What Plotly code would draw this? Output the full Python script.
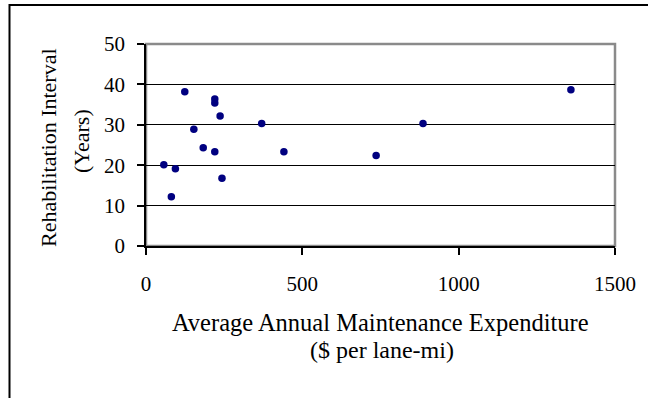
import plotly.graph_objects as go

# Maintenance expenditure ($ per lane-mi) vs rehabilitation interval (years)
expenditure = [124, 220, 220, 237, 370, 153, 183, 220, 441, 57, 94, 243, 81, 736, 886, 1359]
interval = [38.2, 36.4, 35.4, 32.2, 30.3, 28.9, 24.3, 23.3, 23.3, 20.1, 19.1, 16.8, 12.2, 22.4, 30.3, 38.7]

x_ticks = [0, 500, 1000, 1500]
y_ticks = [0, 10, 20, 30, 40, 50]

x_title = ["Average Annual Maintenance Expenditure", "($ per lane-mi)"]
y_title = ["Rehabilitation Interval", "(Years)"]

W, H = 648, 398
L, R, T, B = 146, 33, 44, 152
pw, ph = W - L - R, H - T - B


# pixel -> paper coordinates
def px_x(p):
    return (p - L) / pw


def px_y(p):
    return (H - B - p) / ph


serif = "Liberation Serif, Times New Roman, serif"
tick_font = dict(family=serif, size=21, color="black")

fig = go.Figure(go.Scatter(
    x=expenditure, y=interval, mode="markers",
    marker=dict(size=7.5, color="#000080"),
    cliponaxis=False,
))

annotations = [
    dict(text=x_title[0], x=px_x(380), y=px_y(322), font=dict(family=serif, size=24.5, color="black")),
    dict(text=x_title[1], x=px_x(382), y=px_y(350), font=dict(family=serif, size=24, color="black")),
    dict(text=y_title[0], x=px_x(48), y=px_y(148), textangle=-90, font=dict(family=serif, size=22, color="black")),
    dict(text=y_title[1], x=px_x(81), y=px_y(141), textangle=-90, font=dict(family=serif, size=22, color="black")),
]
for a in annotations:
    a.update(xref="paper", yref="paper", showarrow=False, xanchor="center", yanchor="middle")

fig.update_layout(
    width=W, height=H,
    margin=dict(l=L, r=R, t=T, b=B),
    paper_bgcolor="white", plot_bgcolor="white",
    font=tick_font, showlegend=False,
    annotations=annotations,
    shapes=[
        # plot area frame (gray top/right)
        dict(type="rect", xref="paper", yref="paper", x0=0, x1=1, y0=0, y1=1,
             line=dict(color="#8a8a8a", width=2.5), layer="between"),
        # outer chart border (top and left only visible)
        dict(type="line", xref="paper", yref="paper", x0=px_x(9), x1=px_x(W + 5),
             y0=px_y(5), y1=px_y(5), line=dict(color="black", width=2)),
        dict(type="line", xref="paper", yref="paper", x0=px_x(9.5), x1=px_x(9.5),
             y0=px_y(4), y1=px_y(H + 5), line=dict(color="black", width=2)),
    ],
)

fig.update_xaxes(
    range=[0, 1500], tickvals=x_ticks, showgrid=False, zeroline=False,
    showline=True, linecolor="black", linewidth=1.5,
    ticks="outside", ticklen=7, tickcolor="black", tickwidth=1.5,
    tickfont=tick_font, ticklabelstandoff=11,
)
fig.update_yaxes(
    range=[0, 50], tickvals=y_ticks, showgrid=True, gridcolor="black", gridwidth=1,
    zeroline=False, showline=True, linecolor="black", linewidth=1.5,
    ticks="outside", ticklen=7, tickcolor="black", tickwidth=1.5,
    tickfont=tick_font, ticklabelstandoff=8,
)

fig.write_html("out.html", config={"displayModeBar": False},
               post_script="document.body.style.margin='0';")
